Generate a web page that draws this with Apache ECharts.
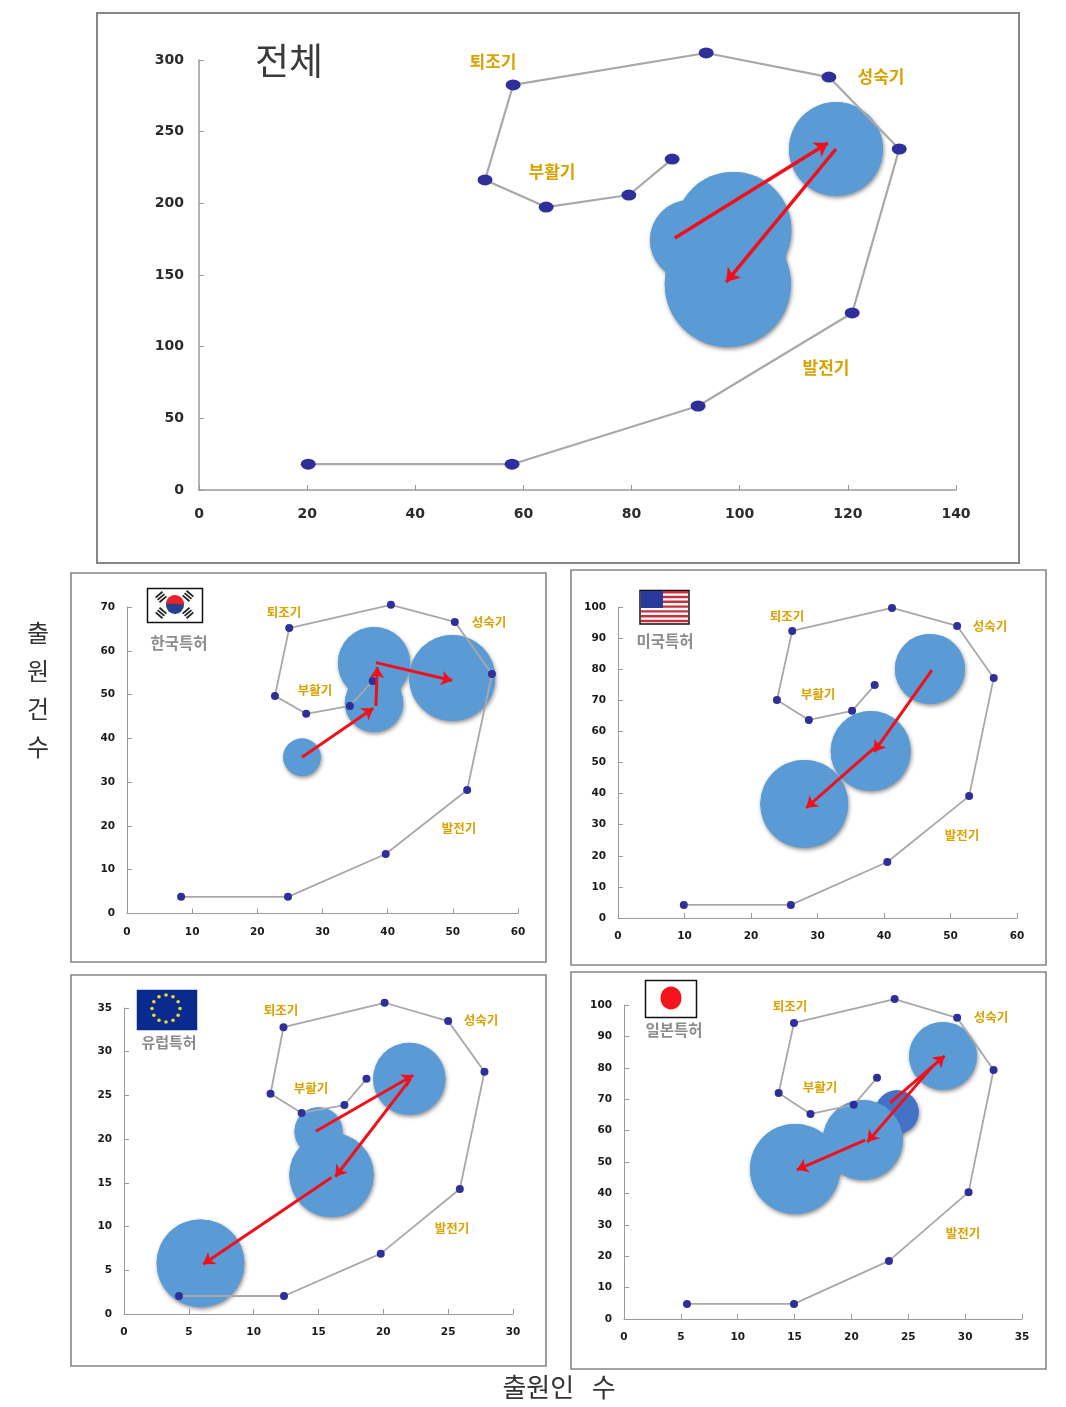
<!DOCTYPE html>
<html>
<head>
<meta charset="utf-8">
<title>출원인 수 - 출원건수</title>
<script src="https://cdn.jsdelivr.net/npm/echarts@6/dist/echarts.min.js"></script>
<style>
  html, body { margin: 0; padding: 0; background: #fff; }
  #chart { width: 1066px; height: 1407px; }
</style>
</head>
<body>
<div id="chart"></div>
<script>
// 궤적 [출원인 수, 출원건수]
const pathAll = [[20.2, 18], [57.9, 18], [92.3, 58.6], [120.8, 123.5], [129.5, 237.9], [116.5, 288.1], [93.8, 304.9], [58.1, 282.6], [52.9, 216.3], [64.2, 197.4], [79.5, 205.8], [87.5, 230.9]]
const pathKr = [[8.3, 3.8], [24.7, 3.8], [39.7, 13.6], [52.2, 28.2], [56.0, 54.7], [50.3, 66.6], [40.5, 70.5], [24.9, 65.2], [22.7, 49.7], [27.5, 45.6], [34.2, 47.4], [37.7, 53.1]]
const pathUs = [[9.9, 4.2], [26.0, 4.2], [40.5, 18.0], [52.8, 39.2], [56.5, 77.2], [51.0, 93.9], [41.2, 99.7], [26.2, 92.3], [23.9, 70.1], [28.7, 63.7], [35.2, 66.6], [38.6, 74.9]]
const pathEu = [[4.24, 2.06], [12.34, 2.06], [19.8, 6.9], [25.9, 14.3], [27.8, 27.7], [25.0, 33.5], [20.1, 35.6], [12.3, 32.8], [11.3, 25.2], [13.7, 23.0], [17.0, 23.9], [18.7, 26.9]]
const pathJp = [[5.54, 4.8], [14.95, 4.8], [23.3, 18.5], [30.3, 40.4], [32.5, 79.3], [29.3, 95.9], [23.8, 101.9], [14.95, 94.3], [13.6, 72.0], [16.4, 65.3], [20.2, 68.2], [22.25, 76.8]]

// 버블 [x, y, 크기값]
const bubblesAll = [[117.8, 237.9, 88], [98.8, 181.4, 135], [90.8, 174.4, 64], [97.8, 143.7, 159]]
const bubblesKr = [[26.85, 35.7, 14], [37.9, 48.1, 34], [37.9, 57.2, 52], [49.9, 53.8, 74]]
const bubblesUs = [[46.9, 80.1, 49], [38.0, 53.7, 64], [28.0, 36.7, 77]]
const bubblesEu = [[22.0, 26.9, 52], [15.0, 20.9, 23], [16.0, 15.9, 71], [5.9, 5.8, 77]]
const bubblesJp = [[24.0, 65.9, 19], [28.05, 83.8, 46], [21.0, 57.0, 64], [15.04, 47.8, 81]]

// 이동 화살표 [[시작], [끝]]
const arrowsAll = [[[88.0, 175.8], [116.3, 242.1]], [[117.8, 237.9], [97.5, 145.1]]]
const arrowsKr = [[[26.85, 35.7], [37.8, 46.9]], [[38.2, 47.4], [38.4, 56.3]], [[38.2, 57.3], [49.9, 53.2]]]
const arrowsUs = [[[47.2, 79.7], [38.5, 53.4]], [[39.4, 56.3], [28.3, 35.4]]]
const arrowsEu = [[[14.8, 20.9], [22.3, 27.3]], [[22.1, 26.9], [16.3, 15.7]], [[16.0, 15.6], [6.1, 5.7]]]
const arrowsJp = [[[23.4, 68.8], [28.2, 83.8]], [[27.1, 80.3], [21.4, 56.4]], [[21.2, 57.0], [15.2, 47.5]]]

const phaseNames = ['퇴조기', '성숙기', '부활기', '발전기']
const yLabel = ['출', '원', '건', '수']
const xLabel = '출원인   수'

const FONT_KR = '"Noto Sans CJK KR"'
const FONT_NUM = '"DejaVu Sans"'

// 패널 배치 (픽셀)
const panels = [
  {
    box: [97, 13, 922, 550], x: [199, 956], y: [60, 490], xMax: 140, xStep: 20, yMax: 300, yStep: 50,
    path: pathAll, bubbles: bubblesAll, arrows: arrowsAll, big: true,
    labels: [[493, 62], [881, 77], [552, 172], [826, 368]]
  },
  {
    box: [71, 573, 475, 389], x: [127, 518], y: [607, 913.5], xMax: 60, xStep: 10, yMax: 70, yStep: 10,
    path: pathKr, bubbles: bubblesKr, arrows: arrowsKr,
    labels: [[284, 612], [489, 622], [315, 690], [459, 828]]
  },
  {
    box: [571, 570, 475, 395], x: [618, 1017], y: [607, 918], xMax: 60, xStep: 10, yMax: 100, yStep: 10,
    path: pathUs, bubbles: bubblesUs, arrows: arrowsUs,
    labels: [[787, 616], [990, 626], [818, 694], [962, 835]]
  },
  {
    box: [71, 975, 475, 391], x: [124, 513], y: [1008, 1314], xMax: 30, xStep: 5, yMax: 35, yStep: 5,
    path: pathEu, bubbles: bubblesEu, arrows: arrowsEu,
    labels: [[281, 1010], [481, 1020], [311, 1088], [452, 1228]]
  },
  {
    box: [571, 972, 475, 397], x: [624, 1022], y: [1005, 1319], xMax: 35, xStep: 5, yMax: 100, yStep: 10,
    path: pathJp, bubbles: bubblesJp, arrows: arrowsJp,
    labels: [[790, 1006], [991, 1017], [820, 1087], [963, 1233]]
  }
]

const grid = []
const xAxis = []
const yAxis = []
const series = []
const graphic = []

function text (str, x, y, size, color, weight) {
  graphic.push({
    type: 'text',
    z: 20,
    x,
    y,
    style: {
      text: str,
      font: `${weight || 'normal'} ${size}px ${FONT_KR}`,
      fill: color,
      align: 'center',
      verticalAlign: 'middle'
    }
  })
}

function rect (x, y, width, height, fill, stroke) {
  graphic.push({
    type: 'rect',
    z: 15,
    shape: { x, y, width, height },
    style: { fill: fill || 'none', stroke: stroke || 'none', lineWidth: stroke ? 1.5 : 0 }
  })
}

panels.forEach((p, i) => {
  const big = !!p.big
  grid.push({ left: p.x[0], top: p.y[0], width: p.x[1] - p.x[0], height: p.y[1] - p.y[0] })
  const axisCommon = {
    gridIndex: i,
    type: 'value',
    min: 0,
    splitLine: { show: false },
    axisLine: { onZero: false, lineStyle: { color: '#9a9a9a', width: big ? 1.5 : 1 } },
    axisTick: { inside: true, length: 5, lineStyle: { color: '#9a9a9a' } }
  }
  const labelCommon = {
    fontFamily: FONT_NUM,
    fontWeight: 'bold',
    fontSize: big ? 14 : 10.5,
    color: big ? '#2b2b2b' : '#1a1a1a'
  }
  xAxis.push({
    ...axisCommon,
    position: 'bottom',
    max: p.xMax,
    interval: p.xStep,
    axisLabel: { ...labelCommon, margin: big ? 17 : 13 }
  })
  yAxis.push({
    ...axisCommon,
    position: 'left',
    max: p.yMax,
    interval: p.yStep,
    axisLabel: { ...labelCommon, margin: big ? 15 : 12 }
  })

  // 그림자 층을 먼저 깔고 같은 버블을 위에 다시 그려서 겹친 부분이 하나로 보이게 한다
  series.push({
    type: 'scatter',
    z: 2,
    xAxisIndex: i,
    yAxisIndex: i,
    clip: false,
    silent: true,
    data: p.bubbles,
    symbolSize: (v) => Math.sqrt(v[2]) * 10,
    itemStyle: {
      opacity: 1,
      color: '#5B9BD5',
      shadowBlur: 4,
      shadowOffsetX: 1,
      shadowOffsetY: 2,
      shadowColor: 'rgba(0,0,0,0.45)'
    }
  })
  series.push({
    type: 'scatter',
    z: 3,
    xAxisIndex: i,
    yAxisIndex: i,
    clip: false,
    silent: true,
    data: p.bubbles,
    symbolSize: (v) => Math.sqrt(v[2]) * 10,
    itemStyle: {
      opacity: 1,
      color: (params) => (i === 4 && params.dataIndex === 0) ? '#4472C4' : '#5B9BD5'
    }
  })
  series.push({
    type: 'line',
    z: 4,
    xAxisIndex: i,
    yAxisIndex: i,
    clip: false,
    silent: true,
    data: p.path,
    symbol: 'circle',
    symbolSize: big ? [15, 11] : 8,
    showSymbol: true,
    lineStyle: { color: '#a8a8a8', width: big ? 2.2 : 1.8 },
    itemStyle: { color: '#2e2f9b', borderWidth: 0 }
  })
  series.push({
    type: 'lines',
    z: 5,
    coordinateSystem: 'cartesian2d',
    xAxisIndex: i,
    yAxisIndex: i,
    clip: false,
    silent: true,
    symbol: ['none', 'arrow'],
    symbolSize: big ? 13 : 11,
    lineStyle: { color: '#f0101c', width: big ? 3.5 : 3, opacity: 1, curveness: 0 },
    data: p.arrows.map((a) => ({ coords: a }))
  })

  // 패널 테두리
  graphic.push({
    type: 'rect',
    z: 0,
    shape: { x: p.box[0], y: p.box[1], width: p.box[2], height: p.box[3] },
    style: { fill: '#fff', stroke: '#868686', lineWidth: big ? 2 : 1.6 }
  })

  phaseNames.forEach((name, k) => {
    text(name, p.labels[k][0], p.labels[k][1], big ? 17 : 12.5, '#d9a200', 'bold')
  })
})

// 제목
text('전체', 289, 61, 37, '#3a3a3a', 'normal')
text('한국특허', 179, 643, 15.5, '#8c8c8c', 'bold')
text('미국특허', 665, 641, 15.5, '#8c8c8c', 'bold')
text('유럽특허', 169, 1042, 15, '#8c8c8c', 'bold')
text('일본특허', 674, 1030, 15.5, '#8c8c8c', 'bold')

// 바깥 축 제목
yLabel.forEach((ch, k) => {
  text(ch, 38, 633 + k * 38, 24, '#333', 'normal')
})
text(xLabel, 559, 1387, 26, '#333', 'normal')

// 태극기
rect(147.5, 588.5, 55, 34, '#fff', '#111')
graphic.push({ type: 'circle', z: 16, shape: { cx: 175, cy: 605, r: 9 }, style: { fill: '#25408f' } })
graphic.push({ type: 'sector', z: 17, shape: { cx: 175, cy: 604, r0: 0, r: 9, startAngle: Math.PI * 1.02, endAngle: Math.PI * 2.02 }, style: { fill: '#e8202a' } })
;[[161, 597, 0.7], [188, 596, -0.7], [161, 613, -0.7], [188, 613, 0.7]].forEach((t) => {
  graphic.push({
    type: 'group',
    z: 16,
    x: t[0],
    y: t[1],
    rotation: t[2],
    children: [-3, 0, 3].map((d) => ({
      type: 'rect',
      z: 16,
      shape: { x: -4.5, y: d - 0.9, width: 9, height: 1.8 },
      style: { fill: '#222' }
    }))
  })
})

// 성조기
rect(640, 590.5, 49, 33.5, '#fff', '#111')
for (let k = 0; k < 7; k++) {
  rect(641, 591 + k * 4.8, 47, 2.4, '#c8303f')
}
rect(641, 591, 22, 17, '#2a3a9c')

// EU
rect(137.5, 990.5, 59, 39, '#0b2a8f', '#0b2a8f')
for (let k = 0; k < 12; k++) {
  const a = k / 12 * Math.PI * 2
  graphic.push({
    type: 'circle',
    z: 16,
    shape: { cx: 166 + Math.cos(a) * 14, cy: 1008.5 + Math.sin(a) * 13.5, r: 1.8 },
    style: { fill: '#ecdc2c' }
  })
}

// 일장기
rect(645.5, 980.5, 51, 37, '#fff', '#111')
graphic.push({ type: 'ellipse', z: 16, shape: { cx: 671, cy: 998, rx: 10.5, ry: 11.5 }, style: { fill: '#f5141c' } })

const chart = echarts.init(document.getElementById('chart'), null, { renderer: 'canvas' })
chart.setOption({
  animation: false,
  backgroundColor: '#fff',
  grid,
  xAxis,
  yAxis,
  series,
  graphic: { elements: graphic }
})
</script>
</body>
</html>
